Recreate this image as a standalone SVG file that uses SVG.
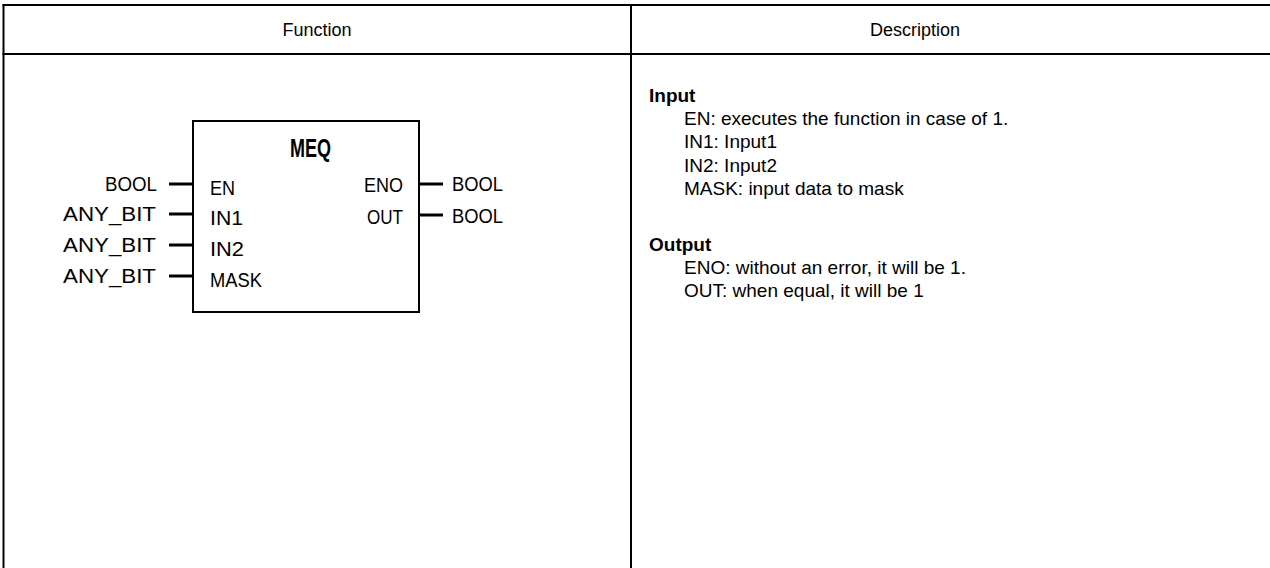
<svg xmlns="http://www.w3.org/2000/svg" width="1270" height="568" viewBox="0 0 1270 568">
<style>
.grid{stroke:#000;stroke-width:2;fill:none}
.hdr{font-family:"Liberation Sans",Arial,sans-serif;font-size:18px;fill:#000;text-anchor:middle}
.desc{font-family:"Liberation Sans",Arial,sans-serif;font-size:19px;fill:#000}
.bold{font-weight:bold}
.pin{font-family:"Liberation Sans",Arial,sans-serif;font-size:20px;fill:#000}
.title{font-family:"Liberation Sans",Arial,sans-serif;font-size:25px;font-weight:bold;fill:#000}
.box{fill:#fff;stroke:#000;stroke-width:2}
.wire{stroke:#000;stroke-width:3;fill:none}
</style>
<rect width="1270" height="568" fill="#fff"/>
<g id="table">
<line class="grid" x1="2.5" y1="5" x2="1270" y2="5"/>
<line class="grid" x1="2.5" y1="54" x2="1270" y2="54"/>
<line class="grid" x1="3.5" y1="4" x2="3.5" y2="568"/>
<line class="grid" x1="631" y1="4" x2="631" y2="568"/>
<text class="hdr" x="317" y="36">Function</text>
<text class="hdr" x="915" y="36">Description</text>
</g>
<g id="connectors">
<line class="wire" x1="169" y1="184" x2="193" y2="184"/>
<line class="wire" x1="169" y1="214" x2="193" y2="214"/>
<line class="wire" x1="169" y1="245" x2="193" y2="245"/>
<line class="wire" x1="169" y1="276" x2="193" y2="276"/>
<line class="wire" x1="419" y1="184" x2="443" y2="184"/>
<line class="wire" x1="419" y1="215" x2="443" y2="215"/>
</g>
<g id="meq">
<rect class="box" x="193" y="121" width="226" height="191"/>
<text class="title" x="290" y="157" textLength="41" lengthAdjust="spacingAndGlyphs">MEQ</text>
<text class="pin" x="210" y="195" textLength="25" lengthAdjust="spacingAndGlyphs">EN</text>
<text class="pin" x="210" y="225" textLength="33" lengthAdjust="spacingAndGlyphs">IN1</text>
<text class="pin" x="210" y="256" textLength="34" lengthAdjust="spacingAndGlyphs">IN2</text>
<text class="pin" x="210" y="287" textLength="52" lengthAdjust="spacingAndGlyphs">MASK</text>
<text class="pin" x="364" y="192" textLength="39" lengthAdjust="spacingAndGlyphs">ENO</text>
<text class="pin" x="367" y="224" textLength="36" lengthAdjust="spacingAndGlyphs">OUT</text>
</g>
<g id="in-types">
<text class="pin" x="105" y="191" textLength="52" lengthAdjust="spacingAndGlyphs">BOOL</text>
<text class="pin" x="63" y="221" textLength="93" lengthAdjust="spacingAndGlyphs">ANY_BIT</text>
<text class="pin" x="63" y="252" textLength="93" lengthAdjust="spacingAndGlyphs">ANY_BIT</text>
<text class="pin" x="63" y="283" textLength="93" lengthAdjust="spacingAndGlyphs">ANY_BIT</text>
</g>
<g id="out-types">
<text class="pin" x="452" y="191" textLength="51" lengthAdjust="spacingAndGlyphs">BOOL</text>
<text class="pin" x="452" y="223" textLength="51" lengthAdjust="spacingAndGlyphs">BOOL</text>
</g>
<g id="description">
<text class="desc bold" x="649" y="102">Input</text>
<text class="desc" x="684" y="125">EN: executes the function in case of 1.</text>
<text class="desc" x="684" y="148">IN1: Input1</text>
<text class="desc" x="684" y="172">IN2: Input2</text>
<text class="desc" x="684" y="195">MASK: input data to mask</text>
<text class="desc bold" x="649" y="251">Output</text>
<text class="desc" x="684" y="274">ENO: without an error, it will be 1.</text>
<text class="desc" x="684" y="297">OUT: when equal, it will be 1</text>
</g>
</svg>
